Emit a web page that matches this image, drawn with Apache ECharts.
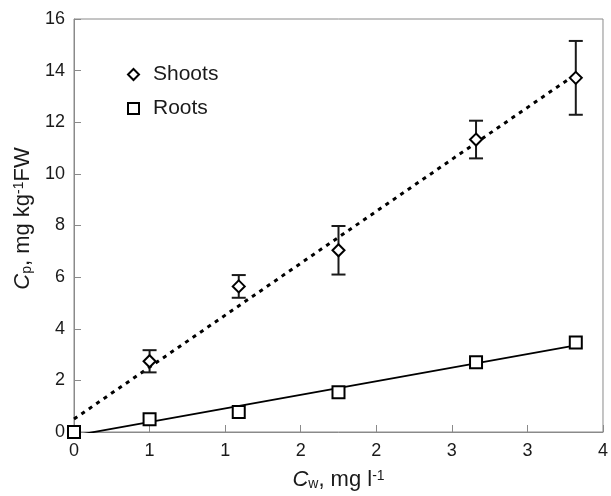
<!DOCTYPE html>
<html>
<head>
<meta charset="utf-8">
<script src="https://cdn.jsdelivr.net/npm/echarts@6/dist/echarts.min.js"></script>
<style>
  html, body { margin: 0; padding: 0; background: #fff; }
  #chart { width: 611px; height: 496px; }
</style>
</head>
<body>
<div id="chart"></div>
<script>
// concentration in water, mg/l
var cw = [0, 0.5, 1.09, 1.75, 2.66, 3.32];
var shootX = [0.5, 1.09, 1.75, 2.66, 3.32];
var shoots = [2.74, 5.64, 7.04, 11.33, 13.72];
var shootsErr = [0.43, 0.44, 0.94, 0.73, 1.43];
var roots = [0, 0.49, 0.77, 1.54, 2.70, 3.47];

// trendline end points
var fitX = [0, 3.32];
var shootsFit = [0.5, 13.86];
var rootsFit = [-0.14, 3.36];

var xTicks = { min: 0, max: 3.5, step: 0.5 };
var yTicks = { min: 0, max: 16, step: 2 };

var font = "Liberation Sans, Arial, sans-serif";
var ink = "#1a1a1a";

function pairs (xs, ys) {
  var out = [];
  xs.forEach(function (x, i) { out.push([x, ys[i]]); });
  return out;
}

var errData = [];
shootX.forEach(function (x, i) { errData.push([x, shoots[i], shootsErr[i]]); });

// sub/superscript styles for the axis titles
var titleRich = {
  i: { fontSize: 22, fontStyle: "italic", color: ink, fontFamily: font },
  sub: { fontSize: 14, color: ink, verticalAlign: "bottom", fontFamily: font },
  n: { fontSize: 22, color: ink, fontFamily: font },
  sup: { fontSize: 14, color: ink, verticalAlign: "top", fontFamily: font }
};

var chart = echarts.init(document.getElementById("chart"));

var option = {
  backgroundColor: "#fff",
  animation: false,
  textStyle: { fontFamily: font },
  grid: {
    left: 74, right: 2, top: 19, bottom: 63,
    show: true, borderColor: "#8a8a8a", borderWidth: 1
  },
  legend: {
    orient: "vertical",
    left: 122, top: 59,
    itemWidth: 11, itemHeight: 11, itemGap: 13,
    data: [
      { name: "Shoots", icon: "diamond" },
      { name: "Roots", icon: "rect" }
    ],
    textStyle: { fontSize: 21, color: ink, fontFamily: font, padding: [0, 0, 0, 9] }
  },
  xAxis: {
    type: "value",
    min: xTicks.min, max: xTicks.max, interval: xTicks.step,
    name: "{i|C}{sub|w}{n|, mg l}{sup|-1}",
    nameLocation: "middle",
    nameGap: 37,
    nameTextStyle: { rich: titleRich },
    axisLine: { lineStyle: { color: "#8a8a8a", width: 1 } },
    axisTick: { inside: true, length: 7, lineStyle: { color: "#8a8a8a" } },
    axisLabel: {
      margin: 10, fontSize: 18, color: ink,
      formatter: function (v) { return String(Math.round(v)); }
    },
    splitLine: { show: false }
  },
  yAxis: {
    type: "value",
    min: yTicks.min, max: yTicks.max, interval: yTicks.step,
    name: "{i|C}{sub|p}{n|, mg kg}{sup|-1}{n|FW}",
    nameLocation: "middle",
    nameGap: 35,
    nameTextStyle: { rich: titleRich, padding: [0, 0, 0, 14] },
    axisLine: { show: true, lineStyle: { color: "#8a8a8a", width: 1 } },
    axisTick: { show: true, inside: true, length: 7, lineStyle: { color: "#8a8a8a" } },
    axisLabel: { margin: 9, fontSize: 18, color: ink },
    splitLine: { show: false }
  },
  series: [
    {
      name: "shoots trend",
      type: "line",
      data: pairs(fitX, shootsFit),
      showSymbol: false,
      lineStyle: { color: "#000", width: 3, type: [4, 5] },
      z: 2
    },
    {
      name: "roots trend",
      type: "line",
      data: pairs(fitX, rootsFit),
      showSymbol: false,
      lineStyle: { color: "#000", width: 1.8 },
      z: 2
    },
    {
      name: "shoots err",
      type: "custom",
      data: errData,
      renderItem: function (params, api) {
        var x = api.value(0), y = api.value(1), e = api.value(2);
        var top = api.coord([x, y + e]);
        var bot = api.coord([x, y - e]);
        var cap = 7;
        var st = { stroke: ink, lineWidth: 2 };
        return {
          type: "group",
          children: [
            { type: "line", shape: { x1: top[0], y1: top[1], x2: bot[0], y2: bot[1] }, style: st },
            { type: "line", shape: { x1: top[0] - cap, y1: top[1], x2: top[0] + cap, y2: top[1] }, style: st },
            { type: "line", shape: { x1: bot[0] - cap, y1: bot[1], x2: bot[0] + cap, y2: bot[1] }, style: st }
          ]
        };
      },
      z: 3
    },
    {
      name: "Shoots",
      type: "scatter",
      data: pairs(shootX, shoots),
      symbol: "diamond",
      symbolSize: 12,
      itemStyle: { color: "#fff", borderColor: "#000", borderWidth: 2, opacity: 1 },
      z: 4
    },
    {
      name: "Roots",
      type: "scatter",
      data: pairs(cw, roots),
      symbol: "rect",
      symbolSize: 12,
      itemStyle: { color: "#fff", borderColor: "#000", borderWidth: 2, opacity: 1 },
      z: 4
    }
  ]
};

chart.setOption(option);
</script>
</body>
</html>
